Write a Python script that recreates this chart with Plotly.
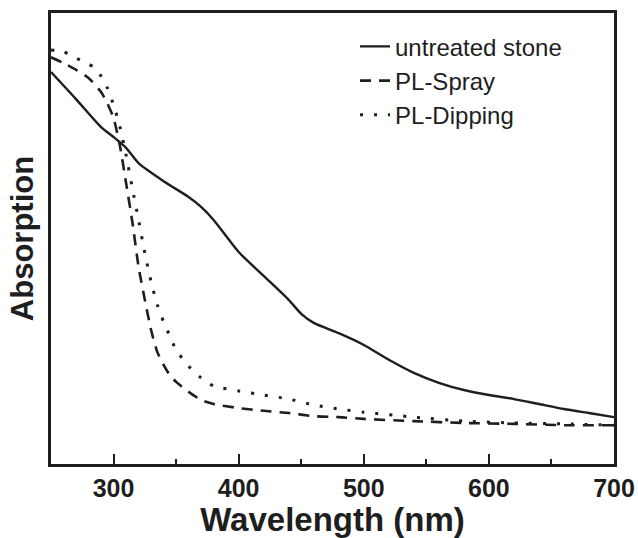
import plotly.graph_objects as go

# Wavelength (nm) and absorption (arbitrary units)
wl_untreated = [250, 270, 290, 300, 310, 320, 340, 360, 370, 380, 400, 420, 440, 450, 460,
                480, 500, 520, 540, 560, 580, 600, 620, 640, 660, 680, 700]
abs_untreated = [0.869, 0.809, 0.747, 0.725, 0.701, 0.667, 0.627, 0.592, 0.570, 0.541, 0.470,
                 0.417, 0.364, 0.333, 0.313, 0.290, 0.264, 0.231, 0.202, 0.180, 0.164, 0.153,
                 0.144, 0.133, 0.122, 0.113, 0.104]

wl_spray = [250, 260, 270, 280, 290, 295, 300, 305, 310, 315, 320, 325, 330, 335, 340, 345,
            350, 360, 370, 380, 400, 420, 440, 460, 480, 500, 540, 580, 620, 660, 700]
abs_spray = [0.902, 0.889, 0.874, 0.856, 0.825, 0.800, 0.767, 0.707, 0.623, 0.537, 0.437, 0.364,
             0.297, 0.248, 0.220, 0.197, 0.182, 0.160, 0.142, 0.133, 0.124, 0.118, 0.113, 0.106,
             0.104, 0.100, 0.095, 0.091, 0.089, 0.086, 0.086]

wl_dipping = [250, 260, 270, 280, 285, 290, 295, 300, 305, 310, 315, 320, 325, 330, 335, 340,
              345, 350, 360, 370, 380, 400, 420, 440, 460, 480, 500, 540, 580, 620, 660, 700]
abs_dipping = [0.918, 0.914, 0.900, 0.887, 0.878, 0.860, 0.834, 0.796, 0.749, 0.685, 0.612,
               0.541, 0.468, 0.404, 0.353, 0.315, 0.284, 0.253, 0.217, 0.191, 0.173, 0.162,
               0.153, 0.144, 0.131, 0.122, 0.115, 0.104, 0.095, 0.091, 0.089, 0.086]

x_ticks = [300, 400, 500, 600, 700]
x_tick_labels = ["300", "400", "500", "600", "700"]

INK = "#1e1e1e"
FONT = "Liberation Sans, Arial, sans-serif"

fig = go.Figure()
fig.add_trace(go.Scatter(x=wl_untreated, y=abs_untreated, mode="lines", name="untreated stone",
                         line=dict(color=INK, width=2.4, shape="spline", smoothing=0.6)))
fig.add_trace(go.Scatter(x=wl_spray, y=abs_spray, mode="lines", name="PL-Spray",
                         line=dict(color=INK, width=2.6, dash="11px,8px", shape="spline", smoothing=0.6)))
fig.add_trace(go.Scatter(x=wl_dipping, y=abs_dipping, mode="lines", name="PL-Dipping",
                         line=dict(color=INK, width=3, dash="3px,11px", shape="spline", smoothing=0.6)))

fig.update_layout(
    width=638, height=538,
    margin=dict(l=51, r=24, t=13, b=74, autoexpand=False),
    paper_bgcolor="white", plot_bgcolor="white",
    font=dict(family=FONT, color=INK),
    showlegend=True,
    legend=dict(x=0.54, y=0.975, xanchor="left", yanchor="top",
                bgcolor="rgba(0,0,0,0)", font=dict(size=24, family=FONT, color=INK),
                traceorder="normal"),
    xaxis=dict(range=[250, 700], tickvals=x_ticks, ticktext=x_tick_labels, automargin=False,
               ticks="inside", ticklen=10, tickwidth=2, tickcolor=INK,
               minor=dict(dtick=50, ticks="inside", ticklen=5, tickwidth=2, tickcolor=INK, showgrid=False),
               showline=True, linecolor=INK, linewidth=3, mirror=True, showgrid=False, zeroline=False,
               tickfont=dict(size=25, family=FONT, color=INK, weight="bold"),
               title=dict(text="<b>Wavelength (nm)</b>", font=dict(size=33, family=FONT, color=INK), standoff=6)),
    yaxis=dict(range=[0, 1], showticklabels=False, ticks="", automargin=False,
               showline=True, linecolor=INK, linewidth=3, mirror=True, showgrid=False, zeroline=False,
               title=dict(text="<b>Absorption</b>", font=dict(size=31, family=FONT, color=INK), standoff=6)),
)

fig.write_html("out.html", config={"displayModeBar": False},
               post_script="document.body.style.margin='0px';")
